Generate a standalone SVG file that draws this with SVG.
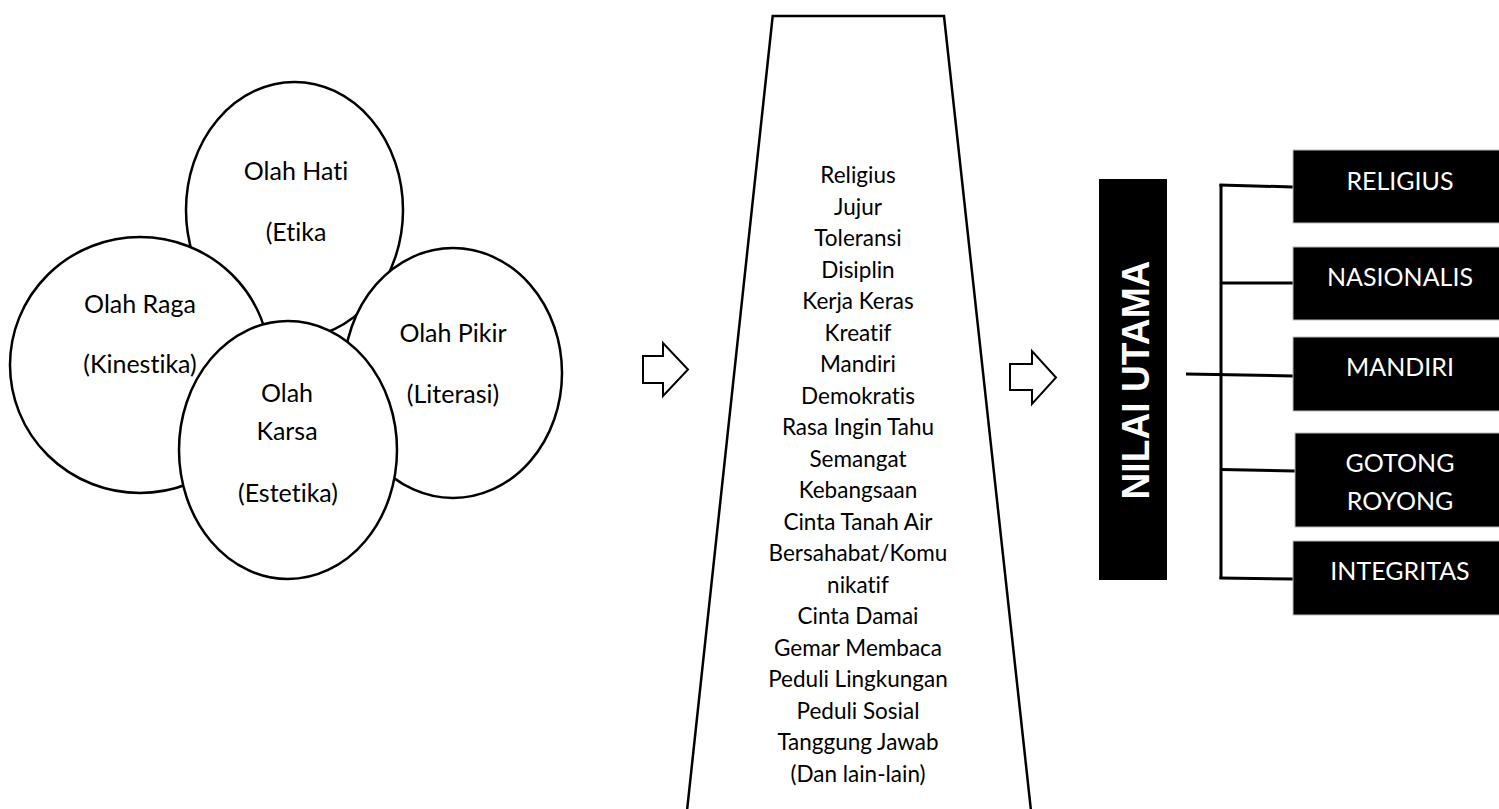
<svg xmlns="http://www.w3.org/2000/svg" width="1499" height="809" viewBox="0 0 1499 809">
<style>
text{font-variant-ligatures:none;font-feature-settings:"liga" 0,"clig" 0}
.c{fill:#fff;stroke:#000;stroke-width:2.5}
.t{font-family:Lato,"Open Sans",sans-serif;fill:#000;text-anchor:middle}
.ct{font-size:25px}
.lt{font-size:22.5px}
.bx{fill:#000;stroke:#bbb;stroke-width:1}
.bt{font-family:Lato,"Open Sans",sans-serif;fill:#fff;text-anchor:middle;font-size:25px}
.ln{stroke:#000;stroke-width:3;fill:none}
.ar{fill:#fff;stroke:#000;stroke-width:2;stroke-linejoin:miter}
</style>
<rect width="1499" height="809" fill="#fff"/>
<g id="olah-hati"><ellipse class="c" cx="294.5" cy="210" rx="108.5" ry="128"/>
<text class="t ct" x="296" y="180">Olah Hati</text>
<text class="t ct" x="296" y="241">(Etika</text></g>
<g id="olah-raga"><ellipse class="c" cx="140" cy="365" rx="130" ry="128"/>
<text class="t ct" x="140" y="313">Olah Raga</text>
<text class="t ct" x="140" y="373">(Kinestika)</text></g>
<g id="olah-pikir"><ellipse class="c" cx="453" cy="373" rx="109" ry="125"/>
<text class="t ct" x="453" y="342">Olah Pikir</text>
<text class="t ct" x="453" y="403">(Literasi)</text></g>
<g id="olah-karsa"><ellipse class="c" cx="288" cy="450" rx="109" ry="129"/>
<text class="t ct" x="287" y="402">Olah</text>
<text class="t ct" x="287" y="440">Karsa</text>
<text class="t ct" x="288" y="502">(Estetika)</text></g>
<g id="connectors">
<polygon class="ar" points="643,356 663,356 663,343 688,369.5 663,396 663,383 643,383"/>
<polygon class="ar" points="1010,364 1032,364 1032,351 1056,377.5 1032,404 1032,390 1010,390"/>
<line class="ln" x1="1221" y1="184" x2="1221" y2="579"/>
<line class="ln" x1="1219.5" y1="185" x2="1293" y2="187"/>
<line class="ln" x1="1221" y1="283" x2="1293" y2="283"/>
<line class="ln" x1="1186" y1="374" x2="1293" y2="376"/>
<line class="ln" x1="1221" y1="469.5" x2="1295" y2="471"/>
<line class="ln" x1="1219.5" y1="578" x2="1293" y2="579"/>
</g>
<g id="nilai-list">
<polygon fill="#fff" stroke="#000" stroke-width="2.5" points="686,820 772.7,16 944,16 1032,820"/>
<g class="t lt">
<text x="858" y="183">Religius</text>
<text x="858" y="214.5">Jujur</text>
<text x="858" y="246">Toleransi</text>
<text x="858" y="277.5">Disiplin</text>
<text x="858" y="309">Kerja Keras</text>
<text x="858" y="340.5">Kreatif</text>
<text x="858" y="372">Mandiri</text>
<text x="858" y="403.5">Demokratis</text>
<text x="858" y="435">Rasa Ingin Tahu</text>
<text x="858" y="466.5">Semangat</text>
<text x="858" y="498">Kebangsaan</text>
<text x="858" y="529.5">Cinta Tanah Air</text>
<text x="858" y="561">Bersahabat/Komu</text>
<text x="858" y="592.5">nikatif</text>
<text x="858" y="624">Cinta Damai</text>
<text x="858" y="655.5">Gemar Membaca</text>
<text x="858" y="687">Peduli Lingkungan</text>
<text x="858" y="718.5">Peduli Sosial</text>
<text x="858" y="750">Tanggung Jawab</text>
<text x="858" y="781.5">(Dan lain-lain)</text>
</g></g>
<g id="nilai-utama"><rect x="1099" y="179" width="68" height="401" fill="#000"/>
<text transform="translate(1149,380) rotate(-90)" text-anchor="middle" font-family="'Liberation Sans',Arial,sans-serif" font-weight="bold" font-size="38" fill="#fff" textLength="239" lengthAdjust="spacingAndGlyphs">NILAI UTAMA</text></g>
<g id="religius"><rect class="bx" x="1293" y="150" width="210" height="73"/><text class="bt" x="1400" y="190">RELIGIUS</text></g>
<g id="nasionalis"><rect class="bx" x="1293" y="247" width="210" height="73"/><text class="bt" x="1400" y="286">NASIONALIS</text></g>
<g id="mandiri"><rect class="bx" x="1293" y="337" width="210" height="74"/><text class="bt" x="1400" y="376">MANDIRI</text></g>
<g id="gotong-royong"><rect class="bx" x="1295" y="433" width="210" height="94"/><text class="bt" x="1400" y="472">GOTONG</text><text class="bt" x="1400" y="510">ROYONG</text></g>
<g id="integritas"><rect class="bx" x="1293" y="541" width="210" height="74"/><text class="bt" x="1400" y="580">INTEGRITAS</text></g>
</svg>
